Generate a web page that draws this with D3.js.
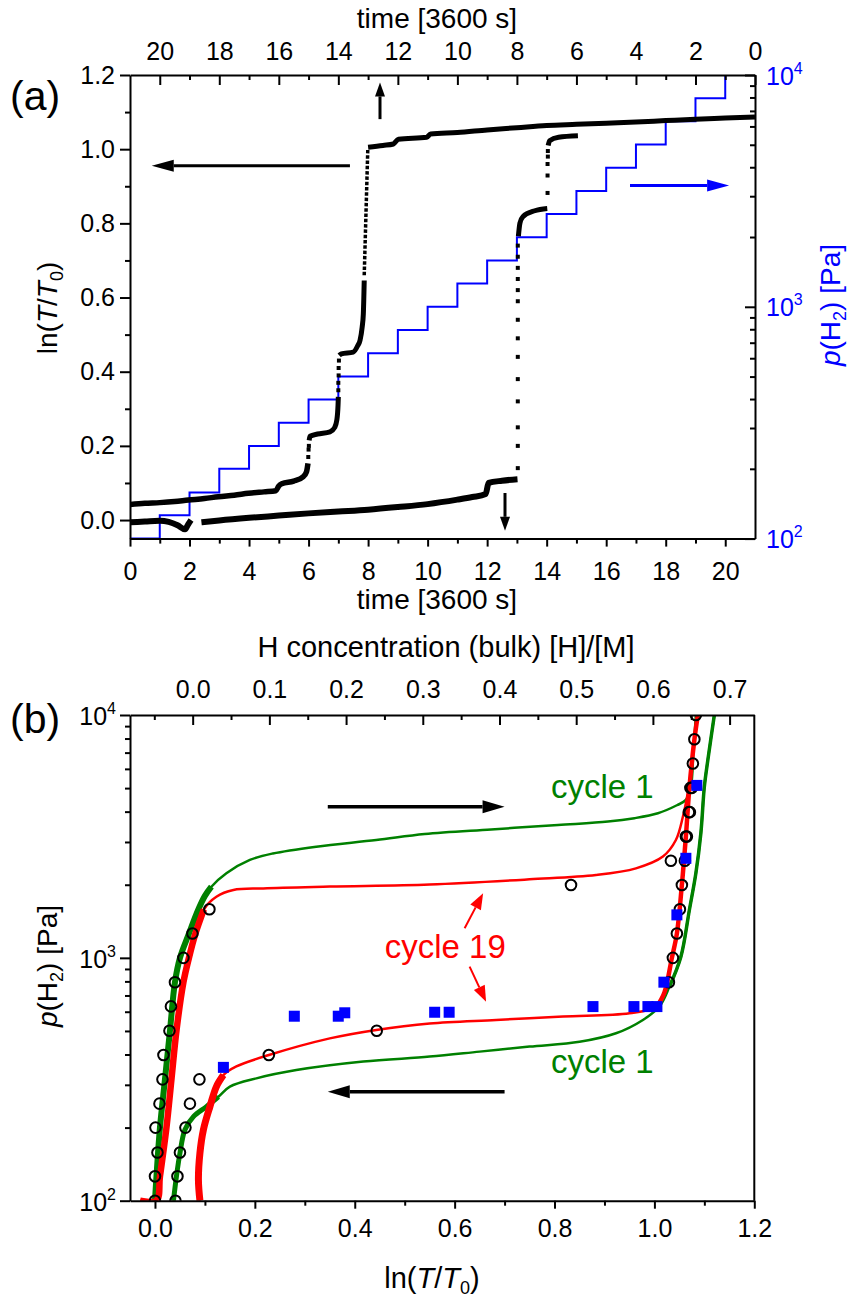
<!DOCTYPE html>
<html>
<head>
<meta charset="utf-8">
<script src="https://cdnjs.cloudflare.com/ajax/libs/d3/7.8.5/d3.min.js"></script>
<style>
    html, body { margin: 0; background: #fff; }
    svg { font-family: Arial, "Liberation Sans", sans-serif; }
</style>
</head>
<body>
<svg id="chart" width="850" height="1302"></svg>
<script>

// ---------- panel (a) data: time [3600 s] vs ln(T/T0), and H2 pressure steps
var timeTicks = [0, 2, 4, 6, 8, 10, 12, 14, 16, 18, 20];
var lnTicksA = [0, 0.2, 0.4, 0.6, 0.8, 1.0, 1.2];
var stepPressure = [100, 126, 158, 200, 251, 316, 398, 501, 631, 794, 1000,
                    1259, 1585, 1995, 2512, 3162, 3981, 5012, 6310, 7943, 10000];

// absorption run (upper black curve)
var absA1 = [[0, 0.042], [0.5, 0.045], [1, 0.047], [1.5, 0.05], [1.96, 0.054], [2.5, 0.058],
             [2.97, 0.063], [3.5, 0.067], [3.98, 0.072], [4.5, 0.076], [4.9, 0.079], [5.0, 0.092],
             [5.1, 0.098], [5.5, 0.105], [5.82, 0.117], [5.93, 0.13], [5.98, 0.153]];
var absA2 = [[6.02, 0.215], [6.05, 0.226], [6.3, 0.232], [6.72, 0.238], [6.88, 0.25],
             [6.95, 0.27], [6.99, 0.31], [7.0, 0.332]];
var absA3 = [[7.03, 0.444], [7.1, 0.448], [7.5, 0.453], [7.65, 0.47], [7.73, 0.485],
             [7.8, 0.52], [7.84, 0.556], [7.87, 0.646]];
var absJump = [[7.87, 0.66], [7.99, 1.0]];
var absA4 = [[8.0, 1.005], [8.5, 1.01], [8.85, 1.014], [9.02, 1.027], [9.97, 1.032], [10.1, 1.041],
             [11, 1.045], [12, 1.052], [13, 1.058], [14, 1.064], [15, 1.067], [16, 1.07],
             [17, 1.073], [18, 1.077], [19, 1.081], [20, 1.084], [21, 1.087]];
var absDots = [[5.99, 0.17], [6.0, 0.19], [6.01, 0.2], [7.0, 0.35], [7.0, 0.37], [7.01, 0.39],
               [7.01, 0.41], [7.02, 0.43]];

// desorption run (lower black curve)
var desA1 = [[0, -0.006], [0.5, -0.004], [1, -0.002], [1.3, -0.005], [1.6, -0.014],
             [1.85, -0.025], [1.95, -0.012], [2.05, 0.0]];
var desA2 = [[2.4, -0.006], [3, -0.001], [4, 0.006], [5, 0.012], [6, 0.018], [7, 0.023],
             [8, 0.028], [9, 0.035], [10, 0.043], [11, 0.055], [11.5, 0.062], [11.95, 0.07],
             [12.05, 0.1], [12.5, 0.106], [13.02, 0.11]];
var desA3 = [[13.05, 0.765], [13.1, 0.8], [13.2, 0.818], [13.6, 0.834], [14.02, 0.84]];
var desA4 = [[14.05, 1.01], [14.1, 1.023], [14.4, 1.032], [15.05, 1.036]];
var desDots = [[13.03, 0.14], [13.03, 0.2], [13.03, 0.25], [13.03, 0.32], [13.03, 0.38],
               [13.03, 0.44], [13.03, 0.49], [13.03, 0.54], [13.03, 0.59], [13.03, 0.62],
               [13.03, 0.65], [13.03, 0.68], [13.03, 0.71], [13.03, 0.74],
               [14.03, 0.882], [14.03, 0.929], [14.03, 0.96], [14.04, 0.98], [14.04, 0.995]];

// ---------- panel (b) data: ln(T/T0) vs p(H2) [Pa]
var lnTicksB = [0, 0.2, 0.4, 0.6, 0.8, 1.0, 1.2];
var hTicks = [0, 0.1, 0.2, 0.3, 0.4, 0.5, 0.6, 0.7];

var cyc1Abs = [[0.0, 100], [0.003, 126], [0.01, 200], [0.02, 316], [0.03, 501], [0.04, 794],
               [0.05, 1000], [0.068, 1259], [0.087, 1585], [0.1, 1800], [0.113, 1963],
               [0.143, 2230], [0.19, 2530], [0.236, 2690], [0.323, 2870], [0.443, 3055],
               [0.54, 3235], [0.673, 3380], [0.807, 3525], [0.907, 3640], [0.96, 3760],
               [1.007, 3940], [1.045, 4250], [1.063, 4470], [1.073, 5070], [1.078, 7000],
               [1.083, 10000]];
var cyc1Des = [[1.12, 10000], [1.107, 6530], [1.1, 5070], [1.093, 3260], [1.083, 2230],
               [1.07, 1575], [1.053, 1010], [1.03, 760], [1.01, 630], [0.977, 555],
               [0.923, 489], [0.85, 451], [0.75, 431], [0.65, 411], [0.55, 392], [0.417, 374],
               [0.283, 345], [0.203, 319], [0.15, 295], [0.127, 268], [0.103, 244],
               [0.077, 222], [0.06, 196], [0.05, 157], [0.043, 126], [0.037, 100]];
var cyc19Abs = [[-0.03, 100], [0.003, 100], [0.01, 126], [0.023, 200], [0.033, 316],
                [0.043, 501], [0.057, 794], [0.068, 1000], [0.081, 1259], [0.098, 1585],
                [0.123, 1786], [0.157, 1902], [0.217, 1932], [0.35, 1965], [0.55, 2005],
                [0.75, 2105], [0.883, 2193], [0.963, 2336], [1.017, 2612], [1.043, 3056],
                [1.057, 3810], [1.07, 5240], [1.08, 7890], [1.087, 10000]];
var cyc19Des = [[1.087, 10000], [1.08, 7900], [1.07, 5000], [1.063, 3160], [1.055, 2000],
                [1.045, 1260], [1.035, 1000], [1.02, 720], [1.005, 630], [0.95, 591],
                [0.817, 573], [0.683, 555], [0.55, 537], [0.443, 505], [0.35, 466],
                [0.228, 398], [0.163, 357], [0.137, 329], [0.123, 295], [0.11, 244],
                [0.097, 196], [0.09, 157], [0.087, 122], [0.09, 100]];
var openCircles = [[0.109, 1585], [0.075, 1259], [0.057, 1000], [0.04, 794], [0.032, 631],
                   [0.029, 501], [0.017, 398], [0.015, 316], [0.009, 251], [0.001, 200],
                   [0.005, 158], [0.0, 126], [0.0, 100],
                   [0.089, 316], [0.07, 251], [0.061, 200], [0.05, 158], [0.045, 126], [0.041, 100],
                   [0.228, 398], [0.444, 501], [0.833, 1995], [1.033, 2512],
                   [1.083, 10000], [1.08, 7943], [1.077, 6310], [1.072, 5012], [1.075, 5012],
                   [1.069, 3981], [1.071, 3981], [1.063, 3162], [1.065, 3162], [1.061, 2512],
                   [1.055, 1995], [1.051, 1585], [1.045, 1259], [1.037, 1000], [1.029, 794]];
var blueSquares = [[0.137, 354], [0.279, 575], [0.367, 575], [0.38, 594], [0.56, 597],
                   [0.589, 597], [0.877, 630], [0.959, 630], [0.987, 630], [1.005, 630],
                   [1.019, 794], [1.045, 1503], [1.063, 2570], [1.085, 5130]];

var minorLog = [2, 3, 4, 5, 6, 7, 8, 9].flatMap(function(m) { return [m * 100, m * 1000]; });

var svg = d3.select('#chart');

// arrow from (x1,y1) to head at (x2,y2)
function arrow(g, x1, y1, x2, y2, color, w, hl, hw) {
    var a = Math.atan2(y2 - y1, x2 - x1),
        bx = x2 - hl * Math.cos(a), by = y2 - hl * Math.sin(a);
    g.append('line').attr('x1', x1).attr('y1', y1).attr('x2', bx).attr('y2', by)
        .attr('stroke', color).attr('stroke-width', w);
    g.append('path')
        .attr('d', 'M' + x2 + ',' + y2 +
            'L' + (bx + hw * Math.sin(a)) + ',' + (by - hw * Math.cos(a)) +
            'L' + (bx - hw * Math.sin(a)) + ',' + (by + hw * Math.cos(a)) + 'Z')
        .attr('fill', color);
}

function styleAxis(g, color) {
    color = color || '#000';
    g.attr('font-family', null).attr('font-size', null);
    g.select('.domain').attr('stroke', '#000').attr('stroke-width', 2);
    g.selectAll('.tick line').attr('stroke', '#000').attr('stroke-width', 2);
    g.selectAll('.tick text').attr('font-size', 25).attr('fill', color);
}

function minor(g, ax) {
    g.call(ax.tickFormat('').tickSizeOuter(0));
    g.select('.domain').remove();
    g.selectAll('.tick line').attr('stroke', '#000').attr('stroke-width', 2);
}

function powLabels(g, scale, vals, x, dy, anchor, color) {
    vals.forEach(function(v) {
        var t = g.append('text').attr('x', x).attr('y', scale(v) + dy)
            .attr('text-anchor', anchor).attr('fill', color).attr('font-size', 25).text('10');
        t.append('tspan').attr('font-size', 16).attr('dy', -11).text(Math.round(Math.log10(v)));
    });
}

// ================= panel (a) =================
var xA = d3.scaleLinear().domain([0, 21]).range([130, 755]),
    xAtop = d3.scaleLinear().domain([21, 0]).range([130, 755]),
    yA = d3.scaleLinear().domain([-0.05, 1.2]).range([538.6, 75]),
    pA = d3.scaleLog().domain([100, 10000]).range([538.6, 75]);

svg.append('clipPath').attr('id', 'clipA').append('rect')
    .attr('x', 130).attr('y', 75).attr('width', 625).attr('height', 463.6);

var pa = svg.append('g').attr('clip-path', 'url(#clipA)');

// pressure steps
var stepData = stepPressure.map(function(p, i) { return [i, p]; }).concat([[21, 10000]]);
pa.append('path')
    .attr('d', d3.line().curve(d3.curveStepAfter)
        .x(function(d) { return xA(d[0]); }).y(function(d) { return pA(d[1]); })(stepData))
    .attr('fill', 'none').attr('stroke', '#0000ff').attr('stroke-width', 2);

var lineA = d3.line().curve(d3.curveMonotoneX)
    .x(function(d) { return xA(d[0]); }).y(function(d) { return yA(d[1]); });
[[absA1, 5.5], [absA2, 5], [absA3, 5], [absA4, 5], [desA1, 6], [desA2, 6], [desA3, 5], [desA4, 5]]
    .forEach(function(s) {
        pa.append('path').attr('d', lineA(s[0])).attr('fill', 'none')
            .attr('stroke', '#000').attr('stroke-width', s[1]).attr('stroke-linejoin', 'round');
    });
pa.append('path').attr('d', lineA(absJump)).attr('fill', 'none').attr('stroke', '#000')
    .attr('stroke-width', 3.5).attr('stroke-dasharray', '3.5,1.8');
pa.selectAll('rect.dot').data(absDots.concat(desDots)).enter().append('rect')
    .attr('x', function(d) { return xA(d[0]) - 2; }).attr('y', function(d) { return yA(d[1]) - 2; })
    .attr('width', 4).attr('height', 4).attr('fill', '#000');

// axes (a)
var gxa = svg.append('g').attr('transform', 'translate(0,538.6)');
gxa.call(d3.axisBottom(xA).tickValues(timeTicks).tickSize(8).tickSizeOuter(0).tickPadding(16));
styleAxis(gxa);
minor(svg.append('g').attr('transform', 'translate(0,538.6)'),
    d3.axisBottom(xA).tickValues(d3.range(1, 21, 2)).tickSize(5));

var gxt = svg.append('g').attr('transform', 'translate(0,75)');
gxt.call(d3.axisTop(xAtop).tickValues(timeTicks).tickSize(-10).tickSizeOuter(0).tickPadding(15));
styleAxis(gxt);
minor(svg.append('g').attr('transform', 'translate(0,75)'),
    d3.axisTop(xAtop).tickValues(d3.range(1, 21, 2)).tickSize(-5));

var gya = svg.append('g').attr('transform', 'translate(130,0)');
gya.call(d3.axisLeft(yA).tickValues(lnTicksA).tickSize(10).tickSizeOuter(0).tickPadding(5)
    .tickFormat(d3.format('.1f')));
styleAxis(gya);
minor(svg.append('g').attr('transform', 'translate(130,0)'),
    d3.axisLeft(yA).tickValues([0.1, 0.3, 0.5, 0.7, 0.9, 1.1]).tickSize(5));

var gpa = svg.append('g').attr('transform', 'translate(755,0)');
gpa.call(d3.axisRight(pA).tickValues([100, 1000, 10000]).tickSize(-10).tickSizeOuter(0).tickFormat(''));
styleAxis(gpa);
minor(svg.append('g').attr('transform', 'translate(755,0)'),
    d3.axisRight(pA).tickValues(minorLog).tickSize(-5));
powLabels(svg, pA, [100, 1000, 10000], 766, 9.5, 'start', '#0000ff');

// titles (a)
svg.append('text').attr('x', 437).attr('y', 28).attr('text-anchor', 'middle')
    .attr('font-size', 28).text('time [3600 s]');
svg.append('text').attr('x', 437).attr('y', 609).attr('text-anchor', 'middle')
    .attr('font-size', 28).text('time [3600 s]');
var tla = svg.append('text').attr('transform', 'translate(57,308) rotate(-90)')
    .attr('text-anchor', 'middle').attr('font-size', 28);
tla.append('tspan').text('ln(');
tla.append('tspan').attr('font-style', 'italic').text('T');
tla.append('tspan').text('/');
tla.append('tspan').attr('font-style', 'italic').text('T');
tla.append('tspan').attr('font-size', 18).attr('dy', 6).text('0');
tla.append('tspan').attr('dy', -6).text(')');
var tra = svg.append('text').attr('transform', 'translate(840,305) rotate(-90)')
    .attr('text-anchor', 'middle').attr('font-size', 28).attr('fill', '#0000ff');
tra.append('tspan').attr('font-style', 'italic').text('p');
tra.append('tspan').text('(H');
tra.append('tspan').attr('font-size', 18).attr('dy', 6).text('2');
tra.append('tspan').attr('dy', -6).text(') [Pa]');
svg.append('text').attr('x', 10).attr('y', 110).attr('font-size', 41).text('(a)');

// arrows (a)
arrow(svg, xA(7.39), yA(0.955), xA(0.73), yA(0.955), '#000', 3, 22, 6);
arrow(svg, xA(8.4), yA(1.081), xA(8.4), yA(1.18), '#000', 3, 14, 5);
arrow(svg, xA(12.6), yA(0.073), xA(12.6), yA(-0.029), '#000', 3, 14, 5);
arrow(svg, xA(16.8), yA(0.902), xA(20.13), yA(0.902), '#0000ff', 3, 22, 6);

// ================= panel (b) =================
var xB = d3.scaleLinear().domain([-0.05, 1.2]).range([130, 754.3]),
    hB = d3.scaleLinear().domain([-0.0817, 0.7322]).range([130, 754.3]),
    pB = d3.scaleLog().domain([100, 10000]).range([1200.7, 715]);

svg.append('clipPath').attr('id', 'clipB').append('rect')
    .attr('x', 130).attr('y', 715).attr('width', 624.3).attr('height', 485.7);
var pb = svg.append('g').attr('clip-path', 'url(#clipB)');

var lineB = d3.line().curve(d3.curveCatmullRom.alpha(0.5))
    .x(function(d) { return xB(d[0]); }).y(function(d) { return pB(d[1]); });

function curve(data, color) {
    pb.append('path').attr('d', lineB(data)).attr('fill', 'none').attr('stroke', color)
        .attr('stroke-width', 2.5).attr('stroke-linejoin', 'round');
}
function band(data, test, color, w) {
    pb.append('path').attr('d', lineB(data.filter(test))).attr('fill', 'none').attr('stroke', color)
        .attr('stroke-width', w).attr('stroke-linejoin', 'round');
}

curve(cyc1Abs, '#008000');
curve(cyc1Des, '#008000');
band(cyc1Abs, function(d) { return d[0] < 0.12; }, '#008000', 6);
band(cyc1Des, function(d) { return d[0] < 0.14 && d[1] < 300; }, '#008000', 5);
band(cyc1Des, function(d) { return d[0] > 1.02; }, '#008000', 3.5);
curve(cyc19Abs, '#ff0000');
curve(cyc19Des, '#ff0000');
band(cyc19Abs, function(d) { return d[0] < 0.11; }, '#ff0000', 6.5);
band(cyc19Des, function(d) { return d[0] < 0.14 && d[1] < 340; }, '#ff0000', 7);
band(cyc19Des, function(d) { return d[0] > 1.0 && d[1] > 600; }, '#ff0000', 4.5);

pb.selectAll('circle').data(openCircles).enter().append('circle')
    .attr('cx', function(d) { return xB(d[0]); }).attr('cy', function(d) { return pB(d[1]); })
    .attr('r', 5.3).attr('fill', 'none').attr('stroke', '#000').attr('stroke-width', 2);
pb.selectAll('rect.sq').data(blueSquares).enter().append('rect')
    .attr('x', function(d) { return xB(d[0]) - 5.5; }).attr('y', function(d) { return pB(d[1]) - 5.5; })
    .attr('width', 11).attr('height', 11).attr('fill', '#0000ff');

// axes (b)
var gxb = svg.append('g').attr('transform', 'translate(0,1200.7)');
gxb.call(d3.axisBottom(xB).tickValues(lnTicksB).tickSize(8).tickSizeOuter(0).tickPadding(11)
    .tickFormat(d3.format('.1f')));
styleAxis(gxb);
minor(svg.append('g').attr('transform', 'translate(0,1200.7)'),
    d3.axisBottom(xB).tickValues([0.1, 0.3, 0.5, 0.7, 0.9, 1.1]).tickSize(5));

var ghb = svg.append('g').attr('transform', 'translate(0,715)');
ghb.call(d3.axisTop(hB).tickValues(hTicks).tickSize(-10).tickSizeOuter(0).tickPadding(17)
    .tickFormat(d3.format('.1f')));
styleAxis(ghb);
minor(svg.append('g').attr('transform', 'translate(0,715)'),
    d3.axisTop(hB).tickValues([-0.05, 0.05, 0.15, 0.25, 0.35, 0.45, 0.55, 0.65]).tickSize(-5));

var gpb = svg.append('g').attr('transform', 'translate(130,0)');
gpb.call(d3.axisLeft(pB).tickValues([100, 1000, 10000]).tickSize(10).tickSizeOuter(0).tickFormat(''));
styleAxis(gpb);
minor(svg.append('g').attr('transform', 'translate(130,0)'),
    d3.axisLeft(pB).tickValues(minorLog).tickSize(5));
powLabels(svg, pB, [100, 1000, 10000], 116, 10, 'end', '#000');

svg.append('line').attr('x1', 754.3).attr('x2', 754.3).attr('y1', 715).attr('y2', 1200.7)
    .attr('stroke', '#000').attr('stroke-width', 2);

// titles (b)
svg.append('text').attr('x', 446).attr('y', 657).attr('text-anchor', 'middle')
    .attr('font-size', 29).text('H concentration (bulk) [H]/[M]');
var tlb = svg.append('text').attr('x', 432).attr('y', 1288).attr('text-anchor', 'middle')
    .attr('font-size', 29);
tlb.append('tspan').text('ln(');
tlb.append('tspan').attr('font-style', 'italic').text('T');
tlb.append('tspan').text('/');
tlb.append('tspan').attr('font-style', 'italic').text('T');
tlb.append('tspan').attr('font-size', 18).attr('dy', 6).text('0');
tlb.append('tspan').attr('dy', -6).text(')');
var tyb = svg.append('text').attr('transform', 'translate(57,966) rotate(-90)')
    .attr('text-anchor', 'middle').attr('font-size', 28);
tyb.append('tspan').attr('font-style', 'italic').text('p');
tyb.append('tspan').text('(H');
tyb.append('tspan').attr('font-size', 18).attr('dy', 6).text('2');
tyb.append('tspan').attr('dy', -6).text(') [Pa]');
svg.append('text').attr('x', 10).attr('y', 733).attr('font-size', 41).text('(b)');

// labels and arrows (b)
svg.append('text').attr('x', xB(0.793)).attr('y', pB(4550)).attr('font-size', 33)
    .attr('fill', '#008000').text('cycle 1');
svg.append('text').attr('x', xB(0.793)).attr('y', pB(336)).attr('font-size', 33)
    .attr('fill', '#008000').text('cycle 1');
svg.append('text').attr('x', xB(0.46)).attr('y', pB(995)).attr('font-size', 33)
    .attr('fill', '#ff0000').text('cycle 19');
arrow(svg, xB(0.346), pB(4190), xB(0.70), pB(4190), '#000', 3.5, 22, 6.5);
arrow(svg, xB(0.70), pB(281), xB(0.346), pB(281), '#000', 3.5, 22, 6.5);
arrow(svg, xB(0.62), pB(1325), xB(0.657), pB(1845), '#ff0000', 2, 16, 6);
arrow(svg, xB(0.63), pB(920), xB(0.663), pB(659), '#ff0000', 2, 16, 6);

</script>
</body>
</html>
